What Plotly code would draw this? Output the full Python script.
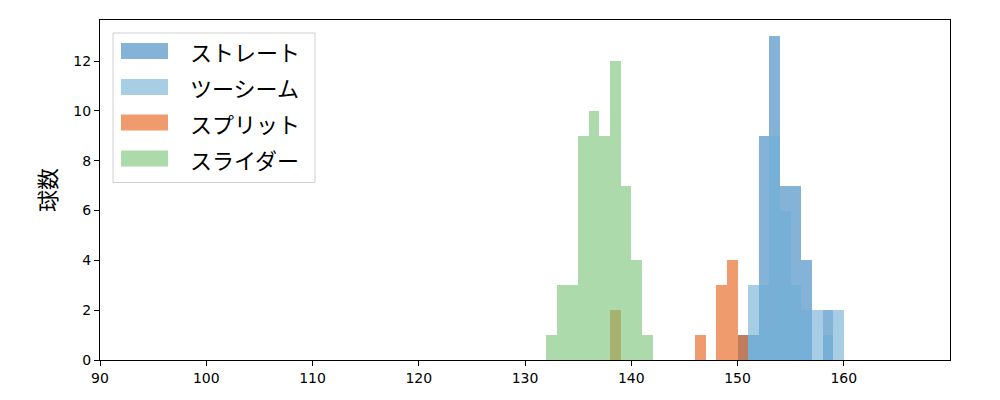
import plotly.graph_objects as go

# Histogram counts per 1-km/h bin (left edges)
straight_edges = [150, 151, 152, 153, 154, 155, 156, 157, 158]
straight_counts = [1, 1, 9, 13, 7, 7, 4, 0, 2]

twoseam_edges = [151, 152, 153, 154, 155, 156, 157, 158, 159]
twoseam_counts = [3, 3, 9, 6, 3, 2, 2, 1, 2]

split_edges = [138, 146, 147, 148, 149, 150]
split_counts = [2, 1, 0, 3, 4, 1]

slider_edges = [132, 133, 134, 135, 136, 137, 138, 139, 140, 141]
slider_counts = [1, 3, 3, 9, 10, 9, 12, 7, 4, 1]

names = ["ストレート", "ツーシーム", "スプリット", "スライダー"]
colors = ["#3480be", "#6eadd5", "#e6580d", "#76c173"]
legend_colors = ["#85b3d8", "#a8cee6", "#f09b6e", "#addaab"]

x_ticks = [90, 100, 110, 120, 130, 140, 150, 160]
y_ticks = [0, 2, 4, 6, 8, 10, 12]

series = [
    (straight_edges, straight_counts),
    (twoseam_edges, twoseam_counts),
    (split_edges, split_counts),
    (slider_edges, slider_counts),
]

BIN_W = 1.0
fig = go.Figure()
for (edges, counts), name, col in zip(series, names, colors):
    fig.add_trace(go.Bar(
        x=[e + BIN_W / 2 for e in edges],
        y=counts,
        width=BIN_W,
        name=name,
        marker=dict(color=col, opacity=0.6, line=dict(width=0)),
        showlegend=False,
    ))

font_family = "Noto Sans CJK JP, DejaVu Sans, sans-serif"
tick_family = "DejaVu Sans, sans-serif"

# Manual legend (box, swatches, labels)
shapes = [dict(type="rect", xref="paper", yref="paper",
               x0=(113 - 100) / 850, x1=(315 - 100) / 850,
               y0=(360 - 182.5) / 340, y1=(360 - 33) / 340,
               line=dict(color="#d0d0d0", width=1), fillcolor="rgba(255,255,255,0.8)",
               layer="above")]
annotations = []
row_y = [51, 87, 122.5, 158.5]
for name, lc, yc in zip(names, legend_colors, row_y):
    shapes.append(dict(type="rect", xref="paper", yref="paper",
                       x0=(121 - 100) / 850, x1=(168 - 100) / 850,
                       y0=(360 - (yc + 8)) / 340, y1=(360 - (yc - 8)) / 340,
                       line=dict(width=0), fillcolor=lc, layer="above"))
    annotations.append(dict(xref="paper", yref="paper",
                            x=(188 - 100) / 850, y=(360 - yc) / 340,
                            text=name, showarrow=False, xanchor="left", yanchor="middle",
                            font=dict(size=22, color="black", family=font_family)))

fig.update_layout(
    width=1000, height=400,
    margin=dict(l=92, r=58, t=12, b=48),
    plot_bgcolor="white", paper_bgcolor="white",
    barmode="overlay", bargap=0,
    font=dict(family=font_family, color="black"),
    shapes=shapes, annotations=annotations,
    xaxis=dict(range=[90, 170], tickvals=x_ticks, ticks="outside", ticklen=5,
               tickwidth=1.2, tickcolor="black", showline=True, linecolor="black",
               linewidth=1.2, mirror=True, showgrid=False, zeroline=False,
               tickfont=dict(size=14, family=tick_family)),
    yaxis=dict(range=[0, 13.65], tickvals=y_ticks, ticks="outside", ticklen=5,
               tickwidth=1.2, tickcolor="black", showline=True, linecolor="black",
               linewidth=1.2, mirror=True, showgrid=False, zeroline=False,
               tickfont=dict(size=14, family=tick_family),
               title=dict(text="球数", font=dict(size=22, family=font_family), standoff=10)),
)

fig.write_html("out.html")
